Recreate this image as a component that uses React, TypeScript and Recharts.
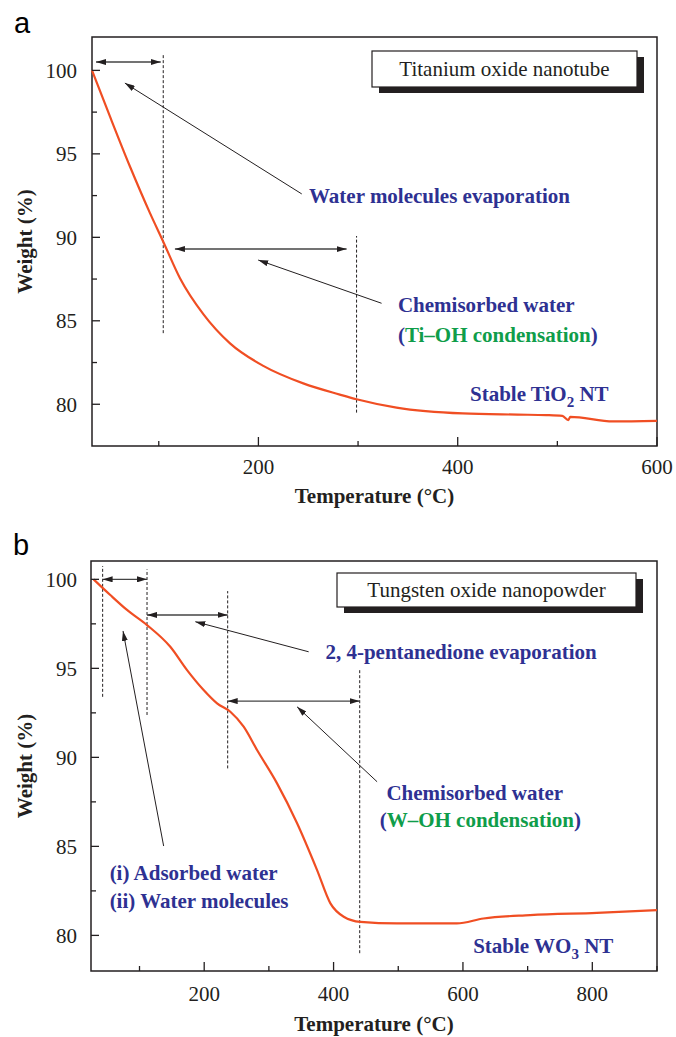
import React from 'react'
import { LineChart, Line, XAxis, YAxis, ReferenceLine, ReferenceArea, ReferenceDot, Label } from 'recharts'

const INK = '#231f20'
const RED = '#f04e23'
const BLUE = '#2e3192'
const GREEN = '#0f9d4a'
const SERIF = '"Liberation Serif", "Times New Roman", serif'

// panel a: titanium oxide nanotube
const tempA = [33, 51, 71.1, 91.2, 104.5, 121.3, 144.7, 171.5, 204.9, 245, 281.7, 298.5, 338.6, 405, 460, 489, 505, 511, 513, 556, 600]
const weightA = [100, 97.24, 94.24, 91.45, 89.74, 87.55, 85.4, 83.65, 82.3, 81.25, 80.58, 80.3, 79.8, 79.45, 79.38, 79.35, 79.3, 79.05, 79.25, 78.97, 79.0]
const xTicksA = [100, 200, 300, 400, 500, 600]

// panel b: tungsten oxide nanopowder
const tempB = [29, 54.8, 80.7, 111.6, 147.6, 173.5, 199.1, 219.9, 240.4, 261, 281.7, 312.6, 343.6, 374.5, 395.1, 415.7, 441.5, 498, 590.6, 631.7, 704, 807, 900]
const weightB = [100, 99.12, 98.28, 97.43, 96.21, 94.9, 93.78, 93.03, 92.56, 91.72, 90.41, 88.54, 86.3, 83.67, 81.8, 81.05, 80.76, 80.67, 80.67, 80.95, 81.14, 81.27, 81.42]
const xTicksB = [100, 200, 300, 400, 500, 600, 700, 800, 900]

const yTicks = [80, 82.5, 85, 87.5, 90, 92.5, 95, 97.5, 100]

// annotations (data coords)
const dashA = [{ x: 104.5, y1: 84.26, y2: 101.0 }, { x: 298.5, y1: 79.5, y2: 90.08 }]
const spansA = [{ x1: 37, x2: 102, y: 100.5 }, { x1: 116.2, x2: 288.5, y: 89.3 }]
const pointersA = [
  { x1: 243.5, y1: 92.6, x2: 66, y2: 99.24 },
  { x1: 323.6, y1: 86.05, x2: 199.8, y2: 88.64 },
]
const labelsA = [
  { x: 250.8, y: 92.06, parts: [{ t: 'Water molecules evaporation', c: BLUE }] },
  { x: 340, y: 85.54, parts: [{ t: 'Chemisorbed water', c: BLUE }] },
  { x: 340, y: 83.74, parts: [{ t: '(', c: BLUE }, { t: 'Ti–OH condensation', c: GREEN }, { t: ')', c: BLUE }] },
  { x: 412.3, y: 80.2, parts: [{ t: 'Stable TiO', c: BLUE }, { t: '2', c: BLUE, sub: true }, { t: ' NT', c: BLUE }] },
]

const dashB = [
  { x: 43, y1: 93.4, y2: 100.75 },
  { x: 111.6, y1: 92.38, y2: 100.56 },
  { x: 236.3, y1: 89.38, y2: 99.34 },
  { x: 440.4, y1: 79.0, y2: 94.9 },
]
const spansB = [
  { x1: 43, x2: 111.6, y: 100 },
  { x1: 111.6, x2: 236.3, y: 98.0 },
  { x1: 236.3, x2: 440.4, y: 93.16 },
]
const pointersB = [
  { x1: 361.5, y1: 95.93, x2: 186.3, y2: 97.62 },
  { x1: 467.3, y1: 88.63, x2: 343.6, y2: 92.84 },
  { x1: 137.3, y1: 85.02, x2: 74.5, y2: 97.1 },
]
const labelsB = [
  { x: 387.4, y: 95.55, parts: [{ t: '2, 4-pentanedione evaporation', c: BLUE }] },
  { x: 481.7, y: 87.6, parts: [{ t: 'Chemisorbed water', c: BLUE }] },
  { x: 471.3, y: 86.1, parts: [{ t: '(', c: BLUE }, { t: 'W–OH condensation', c: GREEN }, { t: ')', c: BLUE }] },
  { x: 53.8, y: 83.1, parts: [{ t: '(i) Adsorbed water', c: BLUE }] },
  { x: 53.8, y: 81.52, parts: [{ t: '(ii) Water molecules', c: BLUE }] },
  { x: 615.8, y: 79.02, parts: [{ t: 'Stable WO', c: BLUE }, { t: '3', c: BLUE, sub: true }, { t: ' NT', c: BLUE }] },
]

const dataA = tempA.map((t, i) => ({ t, w: weightA[i] }))
const dataB = tempB.map((t, i) => ({ t, w: weightB[i] }))

const makeXTick = (labelDy: number) => (p: any) => {
  const v = p.payload.value
  const major = v % 200 === 0
  return (
    <g>
      <line x1={p.x} x2={p.x} y1={p.y} y2={p.y - (major ? 9 : 5)} stroke={INK} strokeWidth={1.3} />
      {major && (
        <text x={p.x} y={p.y + labelDy} textAnchor="middle" fontFamily={SERIF} fontSize={21} fill={INK}>{v}</text>
      )}
    </g>
  )
}

const makeYTick = (gap: number) => (p: any) => {
  const v = p.payload.value
  const major = v % 5 === 0
  return (
    <g>
      <line x1={p.x} x2={p.x + (major ? 8 : 5)} y1={p.y} y2={p.y} stroke={INK} strokeWidth={1.3} />
      {major && (
        <text x={p.x - gap} y={p.y} dy="0.35em" textAnchor="end" fontFamily={SERIF} fontSize={21} fill={INK}>{v}</text>
      )}
    </g>
  )
}

const yTitle = (p: any) => {
  const vb = p.viewBox
  const cx = 25
  const cy = vb.y + vb.height / 2
  return (
    <text x={cx} y={cy} dy="0.35em" textAnchor="middle" transform={`rotate(-90, ${cx}, ${cy})`}
      fontFamily={SERIF} fontSize={21} fontWeight="bold" fill={INK}>Weight (%)</text>
  )
}

const makeXTitle = (dy: number) => (p: any) => {
  const vb = p.viewBox
  return (
    <text x={vb.x + vb.width / 2} y={vb.y + dy} textAnchor="middle"
      fontFamily={SERIF} fontSize={21} fontWeight="bold" fill={INK}>Temperature (°C)</text>
  )
}

const textShape = (parts: any[]) => (p: any) => (
  <text x={p.cx} y={p.cy} fontFamily={SERIF} fontSize={21} fontWeight="bold">
    {parts.map((s, i) =>
      s.sub
        ? <tspan key={i} fill={s.c} dy={6} fontSize={15}>{s.t}</tspan>
        : <tspan key={i} fill={s.c} dy={i > 0 && parts[i - 1].sub ? -6 : 0}>{s.t}</tspan>
    )}
  </text>
)

const arrowLine = (color: string, width: number, both: boolean) => (p: any) => (
  <line x1={p.x1} y1={p.y1} x2={p.x2} y2={p.y2} stroke={color} strokeWidth={width}
    markerEnd="url(#ah)" markerStart={both ? 'url(#ah)' : undefined} />
)

const annotations = (dash: any[], spans: any[], pointers: any[], labels: any[]) => [
  ...dash.map((d, i) => (
    <ReferenceLine key={'d' + i} segment={[{ x: d.x, y: d.y1 }, { x: d.x, y: d.y2 }]}
      stroke={INK} strokeWidth={1} strokeDasharray="3 2" ifOverflow="visible" />
  )),
  ...spans.map((s, i) => (
    <ReferenceLine key={'s' + i} segment={[{ x: s.x1, y: s.y }, { x: s.x2, y: s.y }]}
      ifOverflow="visible" shape={arrowLine('#444', 1.4, true)} />
  )),
  ...pointers.map((s, i) => (
    <ReferenceLine key={'p' + i} segment={[{ x: s.x1, y: s.y1 }, { x: s.x2, y: s.y2 }]}
      ifOverflow="visible" shape={arrowLine(INK, 1, false)} />
  )),
  ...labels.map((l, i) => (
    <ReferenceDot key={'l' + i} x={l.x} y={l.y} r={0} ifOverflow="visible" shape={textShape(l.parts)} />
  )),
]

export default function App() {
  return (
    <div style={{ position: 'absolute', left: 0, top: 0, width: 676, height: 1037, background: '#fff', overflow: 'hidden' }}>
      <svg width={0} height={0} style={{ position: 'absolute' }}>
        <defs>
          <marker id="ah" viewBox="0 0 10 6" refX={10} refY={3} markerWidth={10} markerHeight={6}
            markerUnits="userSpaceOnUse" orient="auto-start-reverse">
            <path d="M0,0 L10,3 L0,6 z" fill={INK} />
          </marker>
        </defs>
      </svg>

      <div style={{ position: 'absolute', left: 0, top: 0 }}>
        <LineChart width={676} height={520} data={dataA} margin={{ top: 37, right: 19, bottom: 0, left: 0 }}>
          <XAxis dataKey="t" type="number" domain={[33, 600]} ticks={xTicksA} interval={0}
            axisLine={false} tickLine={false} tickSize={0} tickMargin={0} height={74} tick={makeXTick(28)}>
            <Label content={makeXTitle(57)} />
          </XAxis>
          <YAxis type="number" domain={[77.5, 102]} ticks={yTicks} interval={0} allowDataOverflow
            axisLine={false} tickLine={false} tickSize={0} tickMargin={0} width={92} tick={makeYTick(15)}>
            <Label content={yTitle} />
          </YAxis>
          <ReferenceArea x1={33} x2={600} y1={77.5} y2={102} fill="none" fillOpacity={0} stroke={INK} strokeWidth={1.5} ifOverflow="visible" />
          {annotations(dashA, spansA, pointersA, labelsA)}
          <Line type="monotone" dataKey="w" stroke={RED} strokeWidth={2.2} dot={false} isAnimationActive={false} />
        </LineChart>
      </div>

      <div style={{ position: 'absolute', left: 0, top: 520 }}>
        <LineChart width={676} height={517} data={dataB} margin={{ top: 41, right: 19, bottom: 0, left: 0 }}>
          <XAxis dataKey="t" type="number" domain={[25, 900]} ticks={xTicksB} interval={0}
            axisLine={false} tickLine={false} tickSize={0} tickMargin={0} height={66} tick={makeXTick(30)}>
            <Label content={makeXTitle(60)} />
          </XAxis>
          <YAxis type="number" domain={[78, 101.03]} ticks={yTicks} interval={0} allowDataOverflow
            axisLine={false} tickLine={false} tickSize={0} tickMargin={0} width={91} tick={makeYTick(14)}>
            <Label content={yTitle} />
          </YAxis>
          <ReferenceArea x1={25} x2={900} y1={78} y2={101.03} fill="none" fillOpacity={0} stroke={INK} strokeWidth={1.5} ifOverflow="visible" />
          {annotations(dashB, spansB, pointersB, labelsB)}
          <Line type="monotone" dataKey="w" stroke={RED} strokeWidth={2.2} dot={false} isAnimationActive={false} />
        </LineChart>
      </div>

      <svg width={676} height={1037} style={{ position: 'absolute', left: 0, top: 0, pointerEvents: 'none' }}>
        <text x={14} y={33} fontFamily='"Liberation Sans", Arial, sans-serif' fontSize={29} fill="#000">a</text>
        <text x={13} y={555} fontFamily='"Liberation Sans", Arial, sans-serif' fontSize={29} fill="#000">b</text>

        <rect x={379} y={57} width={265} height={36} fill={INK} />
        <rect x={372} y={51} width={265} height={36} fill="#fff" stroke={INK} strokeWidth={1.2} />
        <text x={504.5} y={69} dy="0.35em" textAnchor="middle" fontFamily={SERIF} fontSize={21} fill={INK}>Titanium oxide nanotube</text>

        <rect x={344} y={579} width={299} height={34} fill={INK} />
        <rect x={337} y={573} width={299} height={34} fill="#fff" stroke={INK} strokeWidth={1.2} />
        <text x={486.5} y={590} dy="0.35em" textAnchor="middle" fontFamily={SERIF} fontSize={21} fill={INK}>Tungsten oxide nanopowder</text>
      </svg>
    </div>
  )
}
